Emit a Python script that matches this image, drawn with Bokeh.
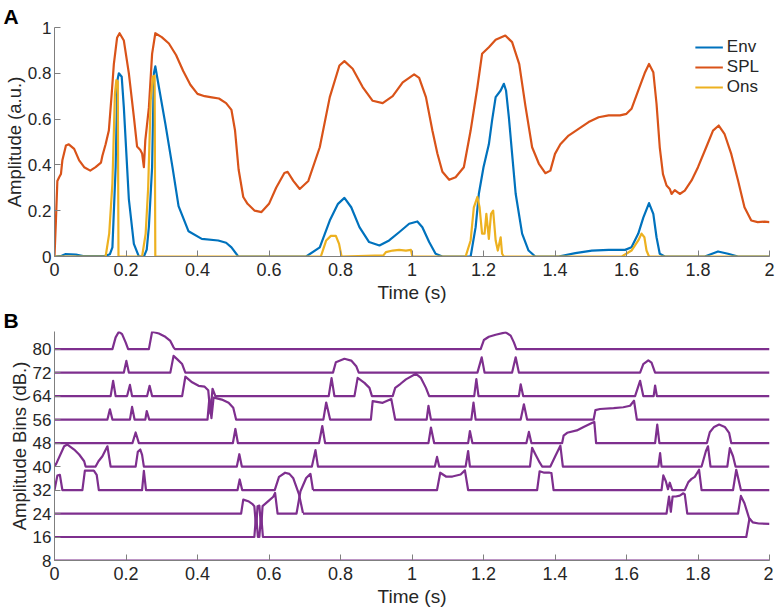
import math
from bokeh.plotting import figure
from bokeh.layouts import column
from bokeh.models import Range1d, FixedTicker, CustomJSTickFormatter, Legend, LegendItem
from bokeh.embed import file_html
from bokeh.resources import INLINE

NAN = float("nan")
FONT = "Liberation Sans"

# ---------------- ticks ----------------
time_ticks = [0, 0.2, 0.4, 0.6, 0.8, 1, 1.2, 1.4, 1.6, 1.8, 2]
amp_ticks = [0, 0.2, 0.4, 0.6, 0.8, 1]
bin_ticks = [8, 16, 24, 32, 40, 48, 56, 64, 72, 80]

# ---------------- panel A data ----------------
spl_t = [0, 0.004, 0.008, 0.013, 0.018, 0.022, 0.032, 0.04, 0.055, 0.069, 0.083, 0.1, 0.115, 0.13,
         0.134, 0.143, 0.152, 0.16, 0.166, 0.175, 0.182, 0.194, 0.208, 0.222, 0.231, 0.24, 0.245,
         0.25, 0.254, 0.264, 0.273, 0.282, 0.3, 0.32, 0.34, 0.36, 0.38, 0.4, 0.42, 0.44, 0.46, 0.48,
         0.495, 0.505, 0.515, 0.528, 0.54, 0.56, 0.579, 0.6, 0.62, 0.643, 0.652, 0.668, 0.686, 0.71,
         0.742, 0.77, 0.797, 0.811, 0.834, 0.862, 0.89, 0.918, 0.946, 0.974, 1.006, 1.02, 1.039,
         1.057, 1.071, 1.085, 1.104, 1.122, 1.145, 1.164, 1.183, 1.196, 1.215, 1.234, 1.261, 1.28,
         1.3, 1.317, 1.336, 1.355, 1.373, 1.387, 1.4, 1.415, 1.438, 1.466, 1.494, 1.522, 1.55, 1.582,
         1.6, 1.614, 1.633, 1.652, 1.663, 1.675, 1.684, 1.693, 1.702, 1.712, 1.721, 1.726, 1.735,
         1.749, 1.763, 1.782, 1.8, 1.823, 1.842, 1.858, 1.874, 1.893, 1.912, 1.93, 1.949, 1.967,
         1.986, 2.0]
spl_y = [0, 0.157, 0.33, 0.346, 0.36, 0.42, 0.485, 0.49, 0.47, 0.42, 0.39, 0.375, 0.39, 0.41,
         0.44, 0.49, 0.55, 0.71, 0.84, 0.955, 0.975, 0.943, 0.8, 0.61, 0.48, 0.465, 0.45,
         0.39, 0.507, 0.65, 0.885, 0.975, 0.958, 0.93, 0.88, 0.81, 0.75, 0.71, 0.7, 0.695, 0.69, 0.67,
         0.64, 0.55, 0.38, 0.26, 0.23, 0.2, 0.194, 0.23, 0.3, 0.365, 0.37, 0.33, 0.295, 0.33,
         0.477, 0.696, 0.834, 0.853, 0.82, 0.74, 0.68, 0.67, 0.7, 0.76, 0.795, 0.78, 0.696,
         0.55, 0.45, 0.37, 0.335, 0.346, 0.39, 0.55, 0.74, 0.885, 0.914, 0.946, 0.965, 0.936,
         0.84, 0.66, 0.477, 0.405, 0.364, 0.375, 0.448, 0.49, 0.528, 0.557, 0.587, 0.608, 0.616, 0.616,
         0.623, 0.645, 0.725, 0.805, 0.841, 0.805, 0.667, 0.477, 0.36, 0.31, 0.295, 0.273, 0.29,
         0.273, 0.288, 0.332, 0.39, 0.477, 0.55, 0.572, 0.536, 0.448, 0.332, 0.215, 0.157, 0.15,
         0.152, 0.15]

env_t = [0, 0.02, 0.03, 0.06, 0.08, 0.14, 0.155, 0.162, 0.171, 0.176, 0.18, 0.188, 0.194, 0.208,
         0.222, 0.236, 0.25, 0.258, 0.264, 0.273, 0.278, 0.282, 0.292, 0.31, 0.33, 0.347, 0.375,
         0.412, 0.458, 0.48, 0.495, 0.514, 0.704, 0.742, 0.77, 0.793, 0.811, 0.83, 0.853, 0.88,
         0.909, 0.936, 0.964, 0.992, 1.015, 1.029, 1.048, 1.066, 1.085, 1.164, 1.178, 1.187, 1.2,
         1.215, 1.224, 1.234, 1.248, 1.257, 1.263, 1.271, 1.28, 1.29, 1.308, 1.326, 1.345, 1.41,
         1.457, 1.503, 1.55, 1.596, 1.614, 1.633, 1.647, 1.663, 1.675, 1.684, 1.693, 1.707, 1.819,
         1.856, 1.884, 1.912, 2.0]
env_y = [0, 0.003, 0.01, 0.008, 0.002, 0.002, 0.01, 0.04, 0.39, 0.77, 0.8, 0.785, 0.65, 0.25,
         0.055, 0.0, 0.0, 0.03, 0.13, 0.39, 0.8, 0.83, 0.74, 0.58, 0.39, 0.22, 0.11,
         0.077, 0.07, 0.06, 0.04, 0.0, 0.0, 0.04, 0.157, 0.23, 0.256, 0.215, 0.128, 0.063,
         0.048, 0.07, 0.106, 0.143, 0.153, 0.128, 0.063, 0.012, 0.0, 0.0, 0.128, 0.274, 0.39,
         0.49, 0.594, 0.696, 0.725, 0.754, 0.725, 0.608, 0.448, 0.274, 0.1, 0.026, 0.0, 0.0,
         0.015, 0.026, 0.029, 0.029, 0.04, 0.1, 0.17, 0.233, 0.186, 0.084, 0.012, 0.0, 0.0,
         0.022, 0.012, 0.0, 0.0]

ons_t = [0, 0.143, 0.153, 0.162, 0.169, 0.173, 0.177, 0.179, 0.245, 0.255, 0.262, 0.269, 0.275,
         0.28, 0.282, 0.745, 0.76, 0.773, 0.787, 0.796, 0.803, 0.92, 0.927, 0.946, 0.964, 0.983,
         0.997, 1.001, 1.15, 1.164, 1.173, 1.183, 1.189, 1.196, 1.203, 1.208, 1.215, 1.221, 1.227,
         1.234, 1.24, 1.248, 1.252, 1.257, 1.587, 1.614, 1.633, 1.642, 1.65, 1.656, 1.663, 2.0]
ons_y = [0, 0, 0.1, 0.32, 0.71, 0.77, 0.765, 0.0, 0.0, 0.1, 0.3, 0.68, 0.785,
         0.79, 0.0, 0.0, 0.07, 0.09, 0.09, 0.055, 0.0, 0.005, 0.019, 0.026, 0.029, 0.026,
         0.029, 0.0, 0.0, 0.07, 0.215, 0.26, 0.215, 0.1, 0.1, 0.186, 0.077, 0.186, 0.2,
         0.07, 0.026, 0.084, 0.012, 0.0, 0.0, 0.026, 0.07, 0.1, 0.084, 0.026, 0.0, 0.0]

# ---------------- panel B data (one trace per amplitude bin) ----------------
bin80_t = [0, 0.162, 0.171, 0.18, 0.189, 0.199, 0.206, 0.264, 0.273, 0.292, 0.31, 0.324, 0.333,
           0.337, 1.192, 1.201, 1.215, 1.234, 1.262, 1.276, 1.285, 1.292, 2]
bin80_v = [80, 80, 84, 85.9, 85.1, 82.3, 80, 80, 85.9, 85.3, 84.2, 82.8, 80.6,
           80, 80, 83.1, 84.2, 84.9, 85.7, 84.6, 82.3, 80, 80]

bin72_t = [0, 0.194, 0.201, 0.208, 0.324, 0.333, 0.343, 0.357, 0.366, 0.779, 0.787, 0.811, 0.83,
           0.844, 0.851, 1.183, 1.195, 1.203, 1.28, 1.29, 1.299, 1.638, 1.647, 1.661, 1.67, 1.68, 2]
bin72_v = [72, 72, 76, 72, 72, 77.7, 76.6, 74.9, 72, 72, 75.5, 76.7, 76.1,
           74.2, 72, 72, 77.2, 72, 72, 77.2, 72, 72, 74.9, 76.2, 75.4, 72, 72]

bin64_t = [0, 0.157, 0.164, 0.171, 0.203, 0.211, 0.217, 0.259, 0.266, 0.273, 0.357, 0.366, 0.385,
           0.403, 0.42, 0.43, 0.436, 0.442, 0.45, 0.767, 0.775, 0.783, 0.839, 0.848, 0.867, 0.881,
           0.888, 0.946, 0.953, 0.968, 0.983, 1.011, 1.025, 1.039, 1.048, 1.174, 1.18, 1.186, 1.299,
           1.304, 1.311, 1.624, 1.638, 1.647, 1.676, 1.68, 1.685, 2]
bin64_v = [64, 64, 69.2, 64, 64, 67.8, 64, 64, 67.5, 64, 64, 70.6, 68.7,
           67.5, 67.2, 66, 58, 66.5, 64, 64, 70.1, 64, 64, 70.2, 68.5, 66.8,
           64, 64, 66.8, 68.2, 69.7, 71.6, 70.2, 66.8, 64, 64, 69.8, 64, 64,
           68, 64, 64, 69.2, 64, 64, 67.6, 64, 64]

bin56_t = [0, 0.148, 0.155, 0.162, 0.211, 0.217, 0.224, 0.254, 0.258, 0.265, 0.428, 0.433, 0.439,
           0.445, 0.449, 0.468, 0.487, 0.5, 0.508, 0.752, 0.76, 0.771, 0.885, 0.89, 0.918, 0.942,
           0.953, 1.041, 1.046, 1.053, 1.166, 1.172, 1.178, 1.304, 1.313, 1.322, 1.508, 1.513, 1.526,
           1.564, 1.591, 1.61, 1.621, 1.629, 2]
bin56_v = [56, 56, 59.5, 56, 56, 60.3, 56, 56, 58.9, 56, 56, 63, 56.5,
           63.5, 63.4, 62.8, 61.7, 60, 56, 56, 61.8, 56, 56, 62.3, 61.7, 63,
           56, 56, 60.7, 56, 56, 61.8, 56, 56, 61.2, 56, 56, 59.2, 59.6,
           59.9, 60.2, 60.7, 62.4, 56, 56]

bin48_t = [0, 0.218, 0.227, 0.236, 0.499, 0.506, 0.513, 0.74, 0.749, 0.757, 1.046, 1.053, 1.062,
           1.157, 1.162, 1.169, 1.32, 1.327, 1.334, 1.42, 1.424, 1.434, 1.461, 1.48, 1.503, 1.51,
           1.515, 1.68, 1.686, 1.692, 1.825, 1.833, 1.845, 1.859, 1.875, 1.887, 1.893, 2]
bin48_v = [48, 48, 51.6, 48, 48, 52.8, 48, 48, 53.8, 48, 48, 53.3, 48,
           48, 52.1, 48, 48, 51.8, 48, 48, 50.5, 51.5, 52.3, 53.5, 54.8, 55.2,
           48, 48, 54.3, 48, 48, 51.7, 53.5, 54.3, 53.5, 51.5, 48, 48]

bin40_t = [0, 0.005, 0.027, 0.036, 0.055, 0.069, 0.083, 0.087, 0.115, 0.123, 0.134, 0.148, 0.157,
           0.227, 0.233, 0.24, 0.245, 0.25, 0.51, 0.517, 0.524, 0.72, 0.73, 0.737, 1.064, 1.07,
           1.076, 1.15, 1.157, 1.162, 1.33, 1.336, 1.345, 1.357, 1.364, 1.387, 1.401, 1.415, 1.422,
           1.689, 1.694, 1.698, 1.81, 1.822, 1.828, 1.835, 1.882, 1.889, 1.898, 1.905, 2]
bin40_v = [40, 41, 46.9, 47.5, 45.8, 44.1, 41.8, 40, 40, 41.8, 43.5, 46.9, 40,
           40, 45, 45.8, 44, 40, 40, 44.2, 40, 40, 45.6, 40, 40, 43.3,
           40, 40, 45.3, 40, 40, 46.4, 44.2, 41.4, 40, 40, 43.6, 47.1, 40,
           40, 44.6, 40, 40, 45.2, 46.9, 40, 40, 46.3, 43.5, 40, 40]

bin32_t = [0, 0.008, 0.015, 0.022, 0.078, 0.085, 0.11, 0.118, 0.124, 0.245, 0.25, 0.256, 0.512,
           0.518, 0.525, 0.616, 0.628, 0.645, 0.657, 0.668, 0.684, 0.695, NAN, 0.723, 1.07, 1.079,
           1.095, 1.113, 1.136, 1.148, 1.157, 1.35, 1.357, 1.37, 1.385, 1.39, 1.396, 1.698, 1.703,
           1.71, 1.716, 1.721, 1.728, 1.763, 1.773, 1.782, 1.791, 1.803, 1.81, 1.898, 1.907, 1.92, 2]
bin32_v = [32, 36.9, 37.2, 32, 32, 38.6, 38.6, 37.2, 32, 32, 38.5, 32, 32,
           35.6, 32, 32, 36.5, 37.9, 37.5, 36, 30.5, 24.2, NAN, 32, 32, 37.9,
           36.6, 36.6, 37.3, 38.7, 32, 32, 38.4, 37.9, 37.9, 37.8, 32, 32, 37,
           35, 32.3, 34.5, 32, 32, 34.7, 35.8, 36.5, 38.9, 32, 32, 38.9, 32, 32]

bin24_t = [0, 0.522, 0.528, 0.542, 0.553, 0.559, 0.564, 0.568, 0.573, 0.578, 0.582, 0.598, 0.612,
           0.617, 0.624, 0.677, 0.688, 0.704, 0.716, 0.723, NAN, 0.695, 1.712, 1.719, 1.724, 1.729,
           1.738, 1.749, 1.759, 1.763, 1.77, 1.912, 1.92, 1.93, 1.944]
bin24_v = [24, 24, 28.75, 28.2, 27.3, 26.5, 19.1, 26.5, 26.7, 19.1, 26.5, 28.2, 29.7,
           31, 24, 24, 31.6, 36.1, 37.5, 32, NAN, 24, 24, 29.8, 24.6, 29.8,
           29.8, 30.1, 30.9, 30.5, 24, 24, 30, 27.5, 22]

bin16_t = [0, 0.559, 0.564, 0.569, 0.573, 0.578, 0.583, 1.935, 1.944, 1.953, 1.97, 2]
bin16_v = [16, 16, 23.6, 16, 16, 23.6, 16, 16, 22.3, 21, 20.6, 20.5]

bin8_t = [0, 2]
bin8_v = [8, 8]

bins = [(bin80_t, bin80_v), (bin72_t, bin72_v), (bin64_t, bin64_v), (bin56_t, bin56_v),
        (bin48_t, bin48_v), (bin40_t, bin40_v), (bin32_t, bin32_v), (bin24_t, bin24_v),
        (bin16_t, bin16_v), (bin8_t, bin8_v)]

BLUE = "#0072BD"
ORANGE = "#D95319"
YELLOW = "#EDB120"
PURPLE = "#7E2F8E"
AXIS_GRAY = "#7f7f7f"
TEXT = "#262626"


def style(p, yticks, ylabel, panel):
    p.outline_line_color = None
    p.xgrid.visible = False
    p.ygrid.visible = False
    p.background_fill_color = "white"
    p.border_fill_color = "white"
    for ax in (p.xaxis[0], p.yaxis[0]):
        ax.axis_line_color = AXIS_GRAY
        ax.axis_line_width = 1
        ax.major_tick_line_color = AXIS_GRAY
        ax.major_tick_in = 6
        ax.major_tick_out = 0
        ax.minor_tick_line_color = None
        ax.major_label_text_font = FONT
        ax.major_label_text_color = TEXT
        ax.formatter = CustomJSTickFormatter(code="return String(tick);")
        ax.axis_label_text_font = FONT
        ax.axis_label_text_font_style = "normal"
        ax.axis_label_text_color = TEXT
    p.xaxis[0].major_label_text_font_size = "18px"
    p.yaxis[0].major_label_text_font_size = "17px"
    p.xaxis[0].axis_label_text_font_size = "19px"
    p.yaxis[0].axis_label_text_font_size = "18.5px"
    p.xaxis[0].ticker = FixedTicker(ticks=time_ticks)
    p.yaxis[0].ticker = FixedTicker(ticks=yticks)
    p.xaxis[0].major_label_standoff = 6
    p.yaxis[0].major_label_standoff = 3
    p.xaxis[0].axis_label = "Time (s)"
    p.xaxis[0].axis_label_standoff = 3
    p.yaxis[0].axis_label = ylabel
    p.yaxis[0].axis_label_standoff = 0
    p.title.text = panel
    p.title.align = "left"
    p.title.offset = -51
    p.title.standoff = 0
    p.title.text_font = FONT
    p.title.text_font_size = "21px"
    p.title.text_font_style = "bold"
    p.title.text_color = "black"


# ---------------- Panel A ----------------
pA = figure(frame_width=715, frame_height=229, x_range=Range1d(0, 2), y_range=Range1d(0, 1),
            output_backend="svg", toolbar_location=None,
            min_border_left=52, min_border_right=6, min_border_top=27, min_border_bottom=50)
style(pA, amp_ticks, "Amplitude (a.u.)", "A")

r_env = pA.line(env_t, env_y, line_color=BLUE, line_width=2.2, line_join="round")
r_spl = pA.line(spl_t, spl_y, line_color=ORANGE, line_width=2.2, line_join="round")
r_ons = pA.line(ons_t, ons_y, line_color=YELLOW, line_width=2.2, line_join="round")

legend = Legend(items=[LegendItem(label="Env", renderers=[r_env]),
                       LegendItem(label="SPL", renderers=[r_spl]),
                       LegendItem(label="Ons", renderers=[r_ons])],
                location="top_right", margin=10, padding=0, spacing=0,
                label_height=20, glyph_height=20, glyph_width=28, label_standoff=4,
                label_text_font=FONT, label_text_font_size="17px", label_text_color=TEXT,
                background_fill_alpha=0, border_line_alpha=0)
pA.add_layout(legend)

# ---------------- Panel B ----------------
pB = figure(frame_width=715, frame_height=229, x_range=Range1d(0, 2), y_range=Range1d(8, 86),
            output_backend="svg", toolbar_location=None,
            min_border_left=52, min_border_right=6, min_border_top=24, min_border_bottom=50)
style(pB, bin_ticks, "Amplitude Bins (dB.)", "B")

for bt, bv in bins:
    pB.line(bt, bv, line_color=PURPLE, line_width=2.2, line_join="round")

layout = column(pA, pB, spacing=0)
open("out.html", "w").write(file_html(layout, INLINE))
